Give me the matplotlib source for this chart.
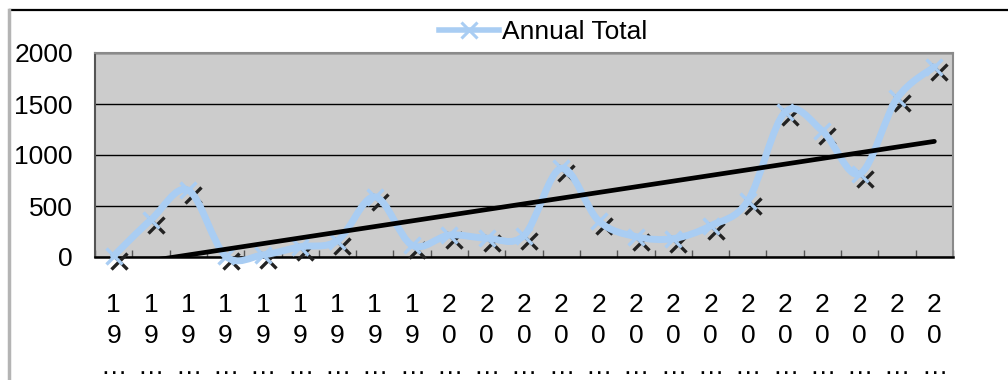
import matplotlib.pyplot as plt
import numpy as np
from matplotlib.lines import Line2D
from matplotlib.patches import PathPatch
from matplotlib.path import Path
from matplotlib.transforms import offset_copy

years = [str(y) for y in range(1991, 2014)]
annual_total = [10, 365, 655, 10, 20, 100, 160, 590, 115, 215, 185, 210,
                870, 355, 200, 180, 305, 550, 1420, 1235, 815, 1555, 1865]
y_ticks = [0, 500, 1000, 1500, 2000]

LINE_BLUE = "#a9cdf3"
FONT = "Liberation Sans"


def smooth_path(xs, ys):
    # cubic Bezier through every point, tangents from the neighbours
    pts = np.column_stack([xs, ys]).astype(float)
    padded = np.vstack([pts[0], pts, pts[-1]])
    verts = [pts[0]]
    codes = [Path.MOVETO]
    for i in range(len(pts) - 1):
        p0, p1, p2, p3 = padded[i], padded[i + 1], padded[i + 2], padded[i + 3]
        verts += [p1 + (p2 - p0) / 6, p2 - (p3 - p1) / 6, p2]
        codes += [Path.CURVE4] * 3
    return Path(verts, codes)


fig = plt.figure(figsize=(10.08, 3.8), dpi=100)
ax = fig.add_axes([95 / 1008, 1 - 257 / 380, 858 / 1008, 204 / 380])
ax.set_facecolor("#cccccc")

x = np.arange(1, len(years) + 1)
vals = np.array(annual_total, dtype=float)

# dark drop shadow of the markers
shadow = offset_copy(ax.transData, fig=fig, x=5, y=-5, units="dots")
ax.plot(x, vals, ls="none", marker="x", ms=12, mew=2.4, color="#222222",
        transform=shadow, zorder=3, clip_on=False)

ax.add_patch(PathPatch(smooth_path(x, vals), facecolor="none",
                       edgecolor=LINE_BLUE, lw=5, zorder=4,
                       capstyle="round", joinstyle="round", clip_on=False))
ax.plot(x, vals, ls="none", marker="x", ms=12, mew=2.4, color=LINE_BLUE,
        zorder=5, clip_on=False)

# linear trend
slope, icpt = np.polyfit(x, vals, 1)
ax.plot(x, slope * x + icpt, color="black", lw=3.4, zorder=6,
        solid_capstyle="round")

ax.set_xlim(0.5, len(years) + 0.5)
ax.set_ylim(0, 2000)
ax.set_yticks(y_ticks)
ax.set_yticklabels([str(v) for v in y_ticks], fontsize=19, family=FONT)
ax.tick_params(axis="y", length=0, pad=16)

ax.set_xticks(x)
ax.set_xticklabels([f"{y[0]}\n{y[1]}\n…" for y in years], fontsize=19,
                   family=FONT, linespacing=1.36, va="top")
ax.set_xticks(np.arange(0.5, len(years) + 1), minor=True)
ax.tick_params(axis="x", which="major", length=0, pad=26)
ax.tick_params(axis="x", which="minor", direction="in", length=5,
               width=1, color="#555555")

ax.grid(axis="y", color="black", lw=1)
ax.set_axisbelow(True)
for side in ("top", "right"):
    ax.spines[side].set_color("#8a8a8a")
    ax.spines[side].set_linewidth(1.5)
ax.spines["left"].set_color("#555555")
ax.spines["left"].set_linewidth(1.5)
ax.spines["bottom"].set_color("black")
ax.spines["bottom"].set_linewidth(1.8)

handle = Line2D([], [], color=LINE_BLUE, lw=4, marker="x", ms=12, mew=2.2)
fig.legend([handle], ["Annual Total"], loc="center",
           bbox_to_anchor=(543 / 1008, 1 - 32 / 380), frameon=False,
           handlelength=2.3, handletextpad=0.1,
           prop={"family": FONT, "size": 19})

# chart area border, cut off at right and bottom
fig.add_artist(Line2D([10 / 1008, 1], [1 - 10 / 380] * 2,
                      color="black", lw=1.6))
fig.add_artist(Line2D([9 / 1008] * 2, [0, 1 - 10 / 380],
                      color="#b4b4b4", lw=2.5))

fig.savefig("out.png", dpi=100)
